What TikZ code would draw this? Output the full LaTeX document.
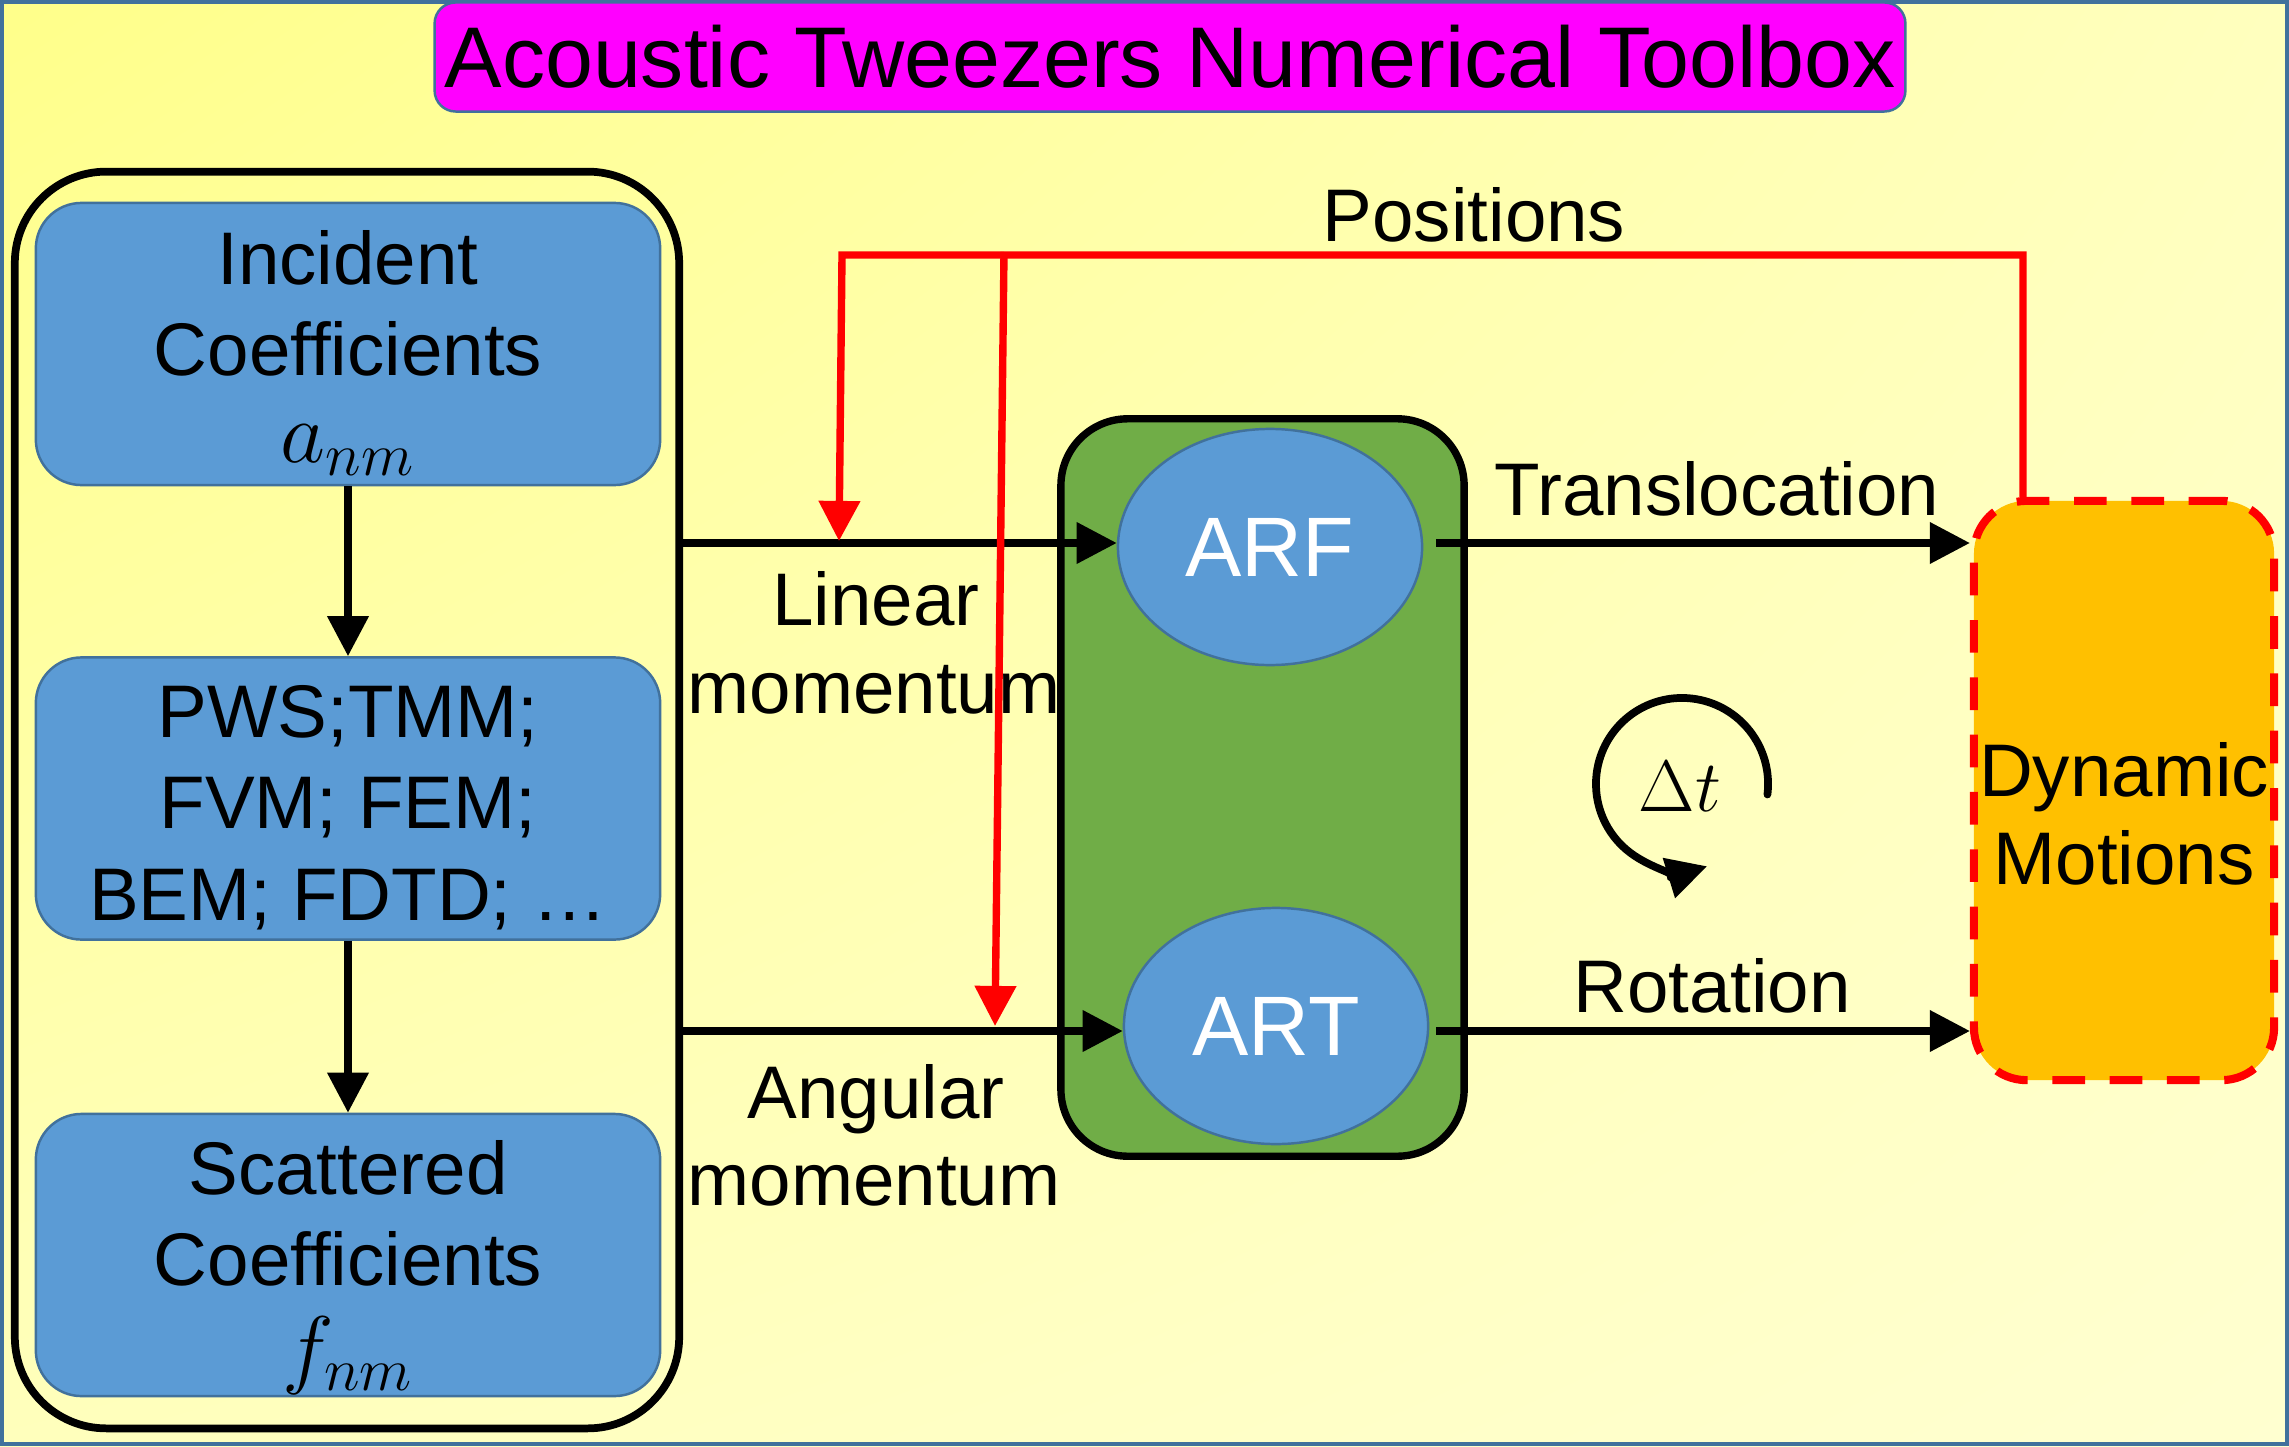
\documentclass[tikz,border=0pt]{standalone}
\usepackage{fontspec}
\setmainfont{Liberation Sans}
\usetikzlibrary{arrows.meta,shapes.geometric,calc,shadings}
\definecolor{bgA}{HTML}{FFFF8A}
\definecolor{bgB}{HTML}{FFFFBE}
\definecolor{bgC}{HTML}{FFFFBC}
\definecolor{bgD}{HTML}{FFFFD0}
\definecolor{frameblue}{HTML}{41719C}
\definecolor{boxblue}{HTML}{5B9BD5}
\definecolor{boxgreen}{HTML}{70AD47}
\definecolor{boxorange}{HTML}{FFC000}
\definecolor{titlemag}{HTML}{FF00FF}
\tikzset{
  titlebox/.style={draw=frameblue, line width=0.7pt, fill=titlemag, rounded corners=6pt,
    minimum width=14.7cm, minimum height=1.09cm, inner sep=0pt,
    font=\fontsize{24.5}{29}\selectfont},
  outerbox/.style={draw=black, line width=2.2pt, rounded corners=26pt,
    minimum width=6.64cm, minimum height=12.56cm, inner sep=0pt},
  bluebox/.style={draw=frameblue, line width=0.7pt, fill=boxblue, rounded corners=13pt,
    minimum width=6.24cm, minimum height=2.82cm, inner sep=0pt},
  greenbox/.style={draw=black, line width=2.1pt, fill=boxgreen, rounded corners=19pt,
    minimum width=4.03cm, minimum height=7.37cm, inner sep=0pt},
  ellbox/.style={ellipse, draw=frameblue, line width=0.7pt, fill=boxblue,
    minimum width=3.04cm, minimum height=2.36cm, inner sep=0pt, text=white,
    font=\fontsize{24}{28}\selectfont},
  dynbox/.style={draw=red, line width=2.3pt, dash pattern=on 9.3pt off 7pt,
    fill=boxorange, rounded corners=15pt,
    minimum width=3.0cm, minimum height=5.79cm, inner sep=0pt},
  txt/.style={anchor=base, inner sep=0pt, font=\fontsize{21.2}{26}\selectfont},
  mtxt/.style={anchor=base, inner sep=0pt, font=\fontsize{23}{27}\selectfont},
  arr/.style={draw=black, line width=2pt, -{Triangle[length=11.4pt,width=11.4pt]}},
  redarr/.style={draw=red, line width=2.1pt, line join=miter, -{Triangle[length=11.4pt,width=11.4pt]}},
}
\begin{document}
\begin{tikzpicture}[x=0.01cm,y=-0.01cm]
\useasboundingbox (0,0) rectangle (2289,1446);
% background
\shade[upper left=bgA, upper right=bgB, lower left=bgC, lower right=bgD] (0,0) rectangle (2289,1446);
\draw[frameblue, line width=1.1pt] (2,2) rectangle (2287,1444);

% title
\node[titlebox] (title) at (1170,57) {Acoustic Tweezers Numerical Toolbox};

% left column
\node[outerbox] (outer) at (347,800) {};
\node[bluebox] (b1) at (348,344) {};
\node[bluebox] (b2) at (348,798.5) {};
\node[bluebox] (b3) at (348,1255) {};
\node[txt] (b1a) at (348,285) {Incident};
\node[txt] (b1b) at (348,375) {Coefficients};
\node[mtxt] (b1c) at (348,462) {$a_{nm}$};
\node[txt] (b2a) at (348,737) {PWS;TMM;};
\node[txt] (b2b) at (348,828) {FVM; FEM;};
\node[txt] (b2c) at (348,920) {BEM; FDTD; …};
\node[txt] (b3a) at (348,1194) {Scattered};
\node[txt] (b3b) at (348,1285) {Coefficients};
\node[mtxt] (b3c) at (348,1377) {$f_{nm}$};
\draw[arr] (b1.south) -- (b2.north);
\draw[arr] (b2.south) -- (b3.north);

% middle
\node[greenbox] (green) at (1262.5,787.5) {};
\node[ellbox] (arf) at (1270,547) {ARF};
\node[ellbox] (art) at (1276,1026) {ART};

% right
\node[dynbox] (dyn) at (2124,790.5) {};
\node[txt] (dyna) at (2124,796) {Dynamic};
\node[txt] (dynb) at (2124,884) {Motions};

% horizontal connectors
\coordinate (ylin) at (0,543);
\coordinate (yang) at (0,1031);
\draw[arr] (outer.east |- ylin) -- (arf.west |- ylin);
\draw[arr, shorten <=1.3mm] (arf.east |- ylin) -- (dyn.west |- ylin);
\draw[arr] (outer.east |- yang) -- (art.west |- yang);
\draw[arr, shorten <=0.7mm] (art.east |- yang) -- (dyn.west |- yang);

% labels
\node[txt] (lin1) at (876,625) {Linear};
\node[txt] (lin2) at (874,713) {momentum};
\node[txt] (ang1) at (876,1118) {Angular};
\node[txt] (ang2) at (874,1205) {momentum};
\node[txt] (trans) at (1717,515) {Translocation};
\node[txt] (rot) at (1712,1012) {Rotation};
\node[txt] (pos) at (1474,242) {Positions};

% red feedback
\coordinate (rtop) at (2023,255);
\coordinate (rleft) at (842,255);
\coordinate (rtip1) at (839,541);
\coordinate (rsplit) at (1004,252);
\coordinate (rtip2) at (995,1026);
\draw[redarr] (dyn.north -| rtop) -- (rtop) -- (rleft) -- (rtip1);
\draw[redarr] (rsplit) -- (rtip2);

% time step loop
\node[inner sep=0pt, font=\fontsize{21}{24}\selectfont] (dt) at (1680,787) {$\Delta t$};
\coordinate (dtc) at (1682,784);
\draw[line width=2.2pt, line cap=round, -{Triangle[length=11.4pt,width=11.4pt]}]
  ($(dtc)+(-7:0.86cm)$) arc[start angle=-7, end angle=287, radius=0.86cm];
\end{tikzpicture}
\end{document}
